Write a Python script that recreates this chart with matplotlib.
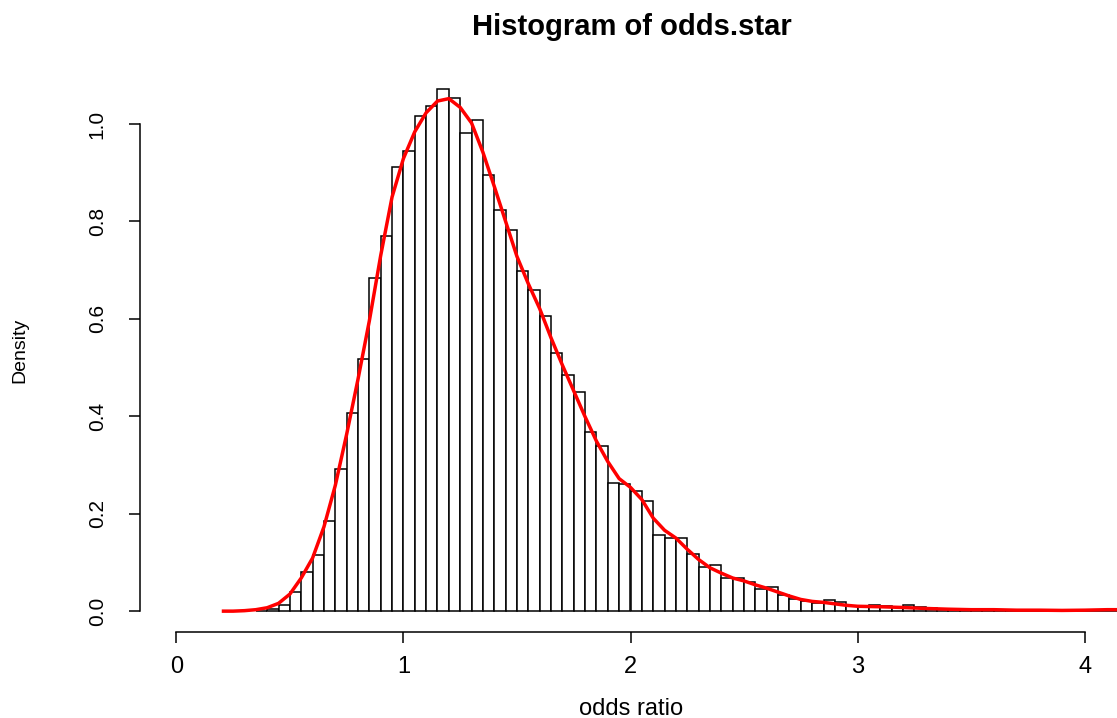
import matplotlib
matplotlib.use("Agg")
import matplotlib.pyplot as plt
import numpy as np

plt.rcParams['font.family'] = ['Liberation Sans', 'DejaVu Sans']

# Histogram: left edges of bins (width 0.05) and densities
bin_width = 0.05
bin_start = 0.35
hist_density = [
    0.001, 0.005, 0.013, 0.039, 0.081, 0.116, 0.185, 0.291, 0.406, 0.517,
    0.683, 0.771, 0.912, 0.944, 1.016, 1.037, 1.071, 1.054, 0.981, 1.009,
    0.895, 0.824, 0.783, 0.699, 0.660, 0.606, 0.529, 0.485, 0.450, 0.368,
    0.340, 0.263, 0.261, 0.246, 0.226, 0.157, 0.150, 0.150, 0.118, 0.091,
    0.094, 0.068, 0.068, 0.059, 0.046, 0.049, 0.033, 0.025, 0.020, 0.017,
    0.023, 0.019, 0.010, 0.009, 0.012, 0.010, 0.009, 0.012, 0.008, 0.007,
    0.005, 0.004, 0.003, 0.002, 0.002, 0.002, 0.001, 0.001, 0.001, 0.001,
    0.001, 0.001, 0.001, 0.001, 0.001, 0.001, 0.001, 0.001, 0.001, 0.001,
    0.001, 0.001, 0.001, 0.001,
]

# Kernel density curve
kde_x = [0.20, 0.25, 0.30, 0.35, 0.40, 0.45, 0.50, 0.55, 0.60, 0.65,
         0.70, 0.75, 0.80, 0.85, 0.90, 0.95, 1.00, 1.05, 1.10, 1.15,
         1.20, 1.25, 1.30, 1.35, 1.40, 1.45, 1.50, 1.55, 1.60, 1.65,
         1.70, 1.75, 1.80, 1.85, 1.90, 1.95, 2.00, 2.05, 2.10, 2.15,
         2.20, 2.25, 2.30, 2.35, 2.40, 2.45, 2.50, 2.55, 2.60, 2.65,
         2.70, 2.75, 2.80, 2.85, 2.90, 2.95, 3.00, 3.10, 3.20, 3.30,
         3.40, 3.50, 3.60, 3.70, 3.80, 3.90, 4.00, 4.10, 4.20]
kde_y = [0.000, 0.000, 0.001, 0.003, 0.007, 0.016, 0.035, 0.068, 0.109, 0.173,
         0.258, 0.363, 0.476, 0.596, 0.730, 0.850, 0.929, 0.984, 1.023, 1.047,
         1.052, 1.034, 1.002, 0.942, 0.872, 0.800, 0.728, 0.672, 0.621, 0.561,
         0.505, 0.452, 0.399, 0.349, 0.307, 0.272, 0.254, 0.229, 0.191, 0.166,
         0.150, 0.127, 0.106, 0.089, 0.078, 0.068, 0.062, 0.054, 0.047, 0.039,
         0.031, 0.024, 0.020, 0.018, 0.015, 0.012, 0.010, 0.009, 0.0075, 0.0055,
         0.004, 0.003, 0.003, 0.002, 0.002, 0.0015, 0.002, 0.003, 0.003]

x_ticks = [0, 1, 2, 3, 4]
y_ticks = [0.0, 0.2, 0.4, 0.6, 0.8, 1.0]
y_tick_labels = ["0.0", "0.2", "0.4", "0.6", "0.8", "1.0"]

W, H = 1117, 718
fig = plt.figure(figsize=(W / 100, H / 100), dpi=100)
left_px, right_px, top_px, bottom_px = 140, 1121, 69, 632
ax = fig.add_axes([left_px / W, (H - bottom_px) / H,
                   (right_px - left_px) / W, (bottom_px - top_px) / H])

edges = bin_start + bin_width * np.arange(len(hist_density))
ax.bar(edges, hist_density, width=bin_width, align='edge',
       facecolor='white', edgecolor='black', linewidth=1.1)
ax.plot(kde_x, kde_y, color='#ff0000', linewidth=2.5, solid_capstyle='butt')

ax.set_xlim(-0.16, 4.16)
ax.set_ylim(-0.0428, 1.1128)

for s in ['top', 'right']:
    ax.spines[s].set_visible(False)
ax.spines['left'].set_bounds(0, 1.0)
ax.spines['bottom'].set_bounds(0, 4)
ax.spines['left'].set_linewidth(1.1)
ax.spines['bottom'].set_linewidth(1.1)

ax.set_xticks(x_ticks)
ax.set_xticklabels([str(t) for t in x_ticks], fontsize=17)
ax.set_yticks(y_ticks)
ax.set_yticklabels(y_tick_labels, fontsize=15, rotation=90, va='center')
ax.tick_params(axis='both', direction='out', length=8, width=1.1)
ax.tick_params(axis='x', pad=9)
ax.tick_params(axis='y', pad=16)

fig.text(632 / W, 1 - 27 / H, "Histogram of odds.star", ha='center', va='center',
         fontsize=21, fontweight='bold')
fig.text(631 / W, 1 - 709 / H, "odds ratio", ha='center', va='center', fontsize=17)
fig.text(20 / W, 1 - 350 / H, "Density", ha='center', va='center', fontsize=14,
         rotation=90)

fig.savefig("out.png", dpi=100)
